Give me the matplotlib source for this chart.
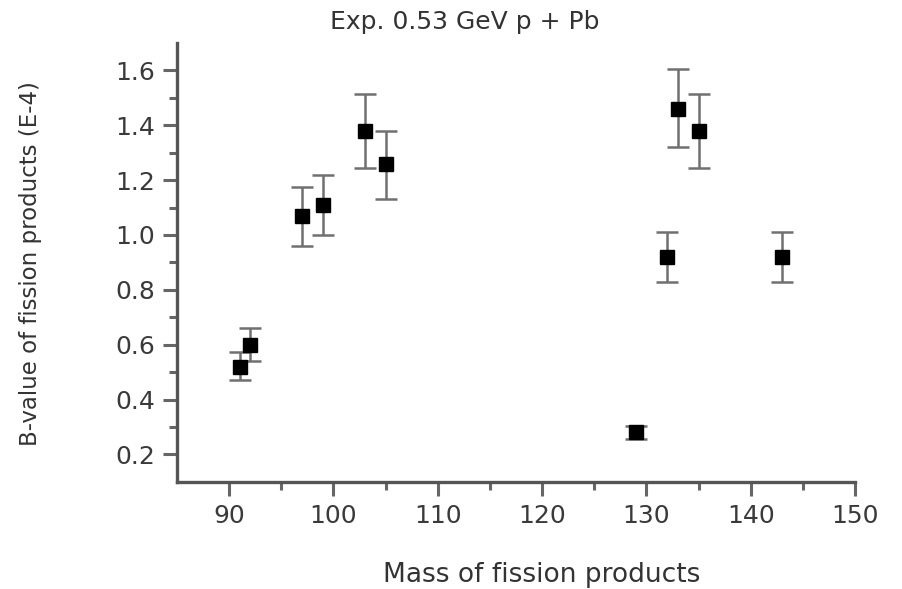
import matplotlib.pyplot as plt
import numpy as np

plt.rcParams['font.family'] = ['DejaVu Sans']

# mass numbers of fission products and B-values (E-4) with asymmetric errors
mass = [91, 92, 97, 99, 103, 105, 129, 132, 133, 135, 143]
b_value = [0.52, 0.60, 1.07, 1.11, 1.38, 1.26, 0.28, 0.92, 1.46, 1.38, 0.92]
err_low = [0.05, 0.06, 0.11, 0.11, 0.135, 0.13, 0.025, 0.09, 0.14, 0.135, 0.09]
err_high = [0.055, 0.06, 0.105, 0.11, 0.135, 0.12, 0.025, 0.09, 0.145, 0.135, 0.09]

x_ticks = [90, 100, 110, 120, 130, 140, 150]
y_ticks = [0.2, 0.4, 0.6, 0.8, 1.0, 1.2, 1.4, 1.6]

fig = plt.figure(figsize=(9.03, 5.89), dpi=100)
ax = fig.add_axes([0.196, 0.182, 0.751, 0.745])

ax.errorbar(mass, b_value, yerr=[err_low, err_high], fmt='s', color='black',
            markersize=9.5, ecolor='#707070', elinewidth=1.8, capsize=8,
            capthick=1.8)

ax.set_xlim(85, 150)
ax.set_ylim(0.1, 1.7)
ax.set_xticks(x_ticks)
ax.set_yticks(y_ticks)
ax.set_yticklabels([f"{v:.1f}" for v in y_ticks])
ax.set_xticks(np.arange(95, 150, 10), minor=True)
ax.set_yticks(np.arange(0.3, 1.7, 0.2), minor=True)

for s in ['top', 'right']:
    ax.spines[s].set_visible(False)
for s in ['left', 'bottom']:
    ax.spines[s].set_color('#555555')
    ax.spines[s].set_linewidth(2.4)

ax.tick_params(which='major', direction='out', length=10, width=2.2,
               color='#666666', labelsize=18, labelcolor='#3a3a3a', pad=6)
ax.tick_params(which='minor', direction='out', length=5.5, width=2.2,
               color='#666666')

fig.text(0.515, 0.962, "Exp. 0.53 GeV p + Pb", ha='center', va='center',
         fontsize=18, color='#333333')
fig.text(0.6, 0.023, "Mass of fission products", ha='center', va='center',
         fontsize=19, color='#333333')
fig.text(0.034, 0.553, "B-value of fission products (E-4)", ha='center',
         va='center', rotation=90, fontsize=16.5, color='#333333')

plt.savefig("out.png", dpi=100)
plt.close()
